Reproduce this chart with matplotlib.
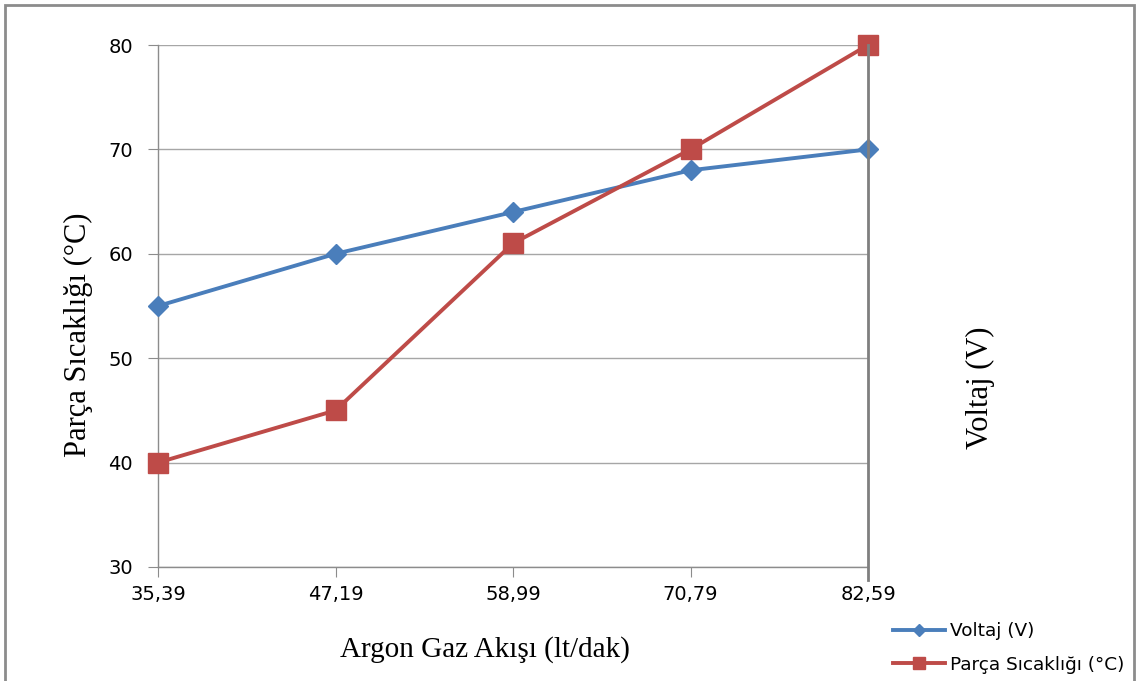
import matplotlib.pyplot as plt
from matplotlib.lines import Line2D
from matplotlib.patches import Rectangle

flow_labels = ['35,39', '47,19', '58,99', '70,79', '82,59']
voltaj = [55, 60, 64, 68, 70]
sicaklik = [40, 45, 61, 70, 80]

blue = '#4A7EBB'
red = '#BE4B48'
serif = ['Liberation Serif', 'DejaVu Serif']

fig = plt.figure(figsize=(11.38, 6.81), dpi=100)
ax = fig.add_axes([158 / 1138, 1 - 567 / 681, 710 / 1138, 522 / 681])
positions = list(range(len(flow_labels)))

ax.plot(positions, voltaj, color=blue, lw=2.8, marker='D', ms=10,
        label='Voltaj (V)', clip_on=False, zorder=3)
ax.plot(positions, sicaklik, color=red, lw=2.8, marker='s', ms=14,
        label='Parça Sıcaklığı (°C)', clip_on=False, zorder=3)

ax.set_xlim(0, 4)
ax.set_ylim(30, 80)
ax.set_xticks(positions)
ax.set_xticklabels(flow_labels)
ax.set_yticks(range(30, 81, 10))
ax.tick_params(axis='y', length=7, pad=11, color='#8C8C8C', labelsize=14)
ax.tick_params(axis='x', length=7, pad=6, color='#8C8C8C', labelsize=14)
ax.grid(axis='y', color='#A6A6A6', lw=1)
ax.set_axisbelow(True)
for side in ['top', 'right']:
    ax.spines[side].set_visible(False)
for side in ['left', 'bottom']:
    ax.spines[side].set_color('#8C8C8C')
    ax.spines[side].set_linewidth(1)

# secondary axis line on the right
ax.add_line(Line2D([1, 1], [-0.025, 1], transform=ax.transAxes, color='#7F7F7F',
                   lw=2, clip_on=False, zorder=4))

ax.set_ylabel('Parça Sıcaklığı (°C)', family=serif, fontsize=22)
ax.yaxis.set_label_coords(-0.0915, 0.444)
ax.set_xlabel('Argon Gaz Akışı (lt/dak)', family=serif, fontsize=21)
ax.xaxis.set_label_coords(0.46, -0.132)
ax.text(1.138, 0.343, 'Voltaj (V)', transform=ax.transAxes, rotation=90,
        family=serif, fontsize=22, ha='left', va='center')

fig.legend(loc='upper left', bbox_to_anchor=(884 / 1138, 1 - 613 / 681),
           frameon=False, fontsize=13.3, handlelength=2.8, handletextpad=0.25,
           labelspacing=0.85, borderpad=0, markerscale=0.65)

fig.patches.append(Rectangle((5 / 1138, -0.05), 1129 / 1138, 1.05 - 5 / 681,
                             transform=fig.transFigure, fill=False,
                             edgecolor='#8C8C8C', lw=2))

fig.savefig('out.png', dpi=100)
